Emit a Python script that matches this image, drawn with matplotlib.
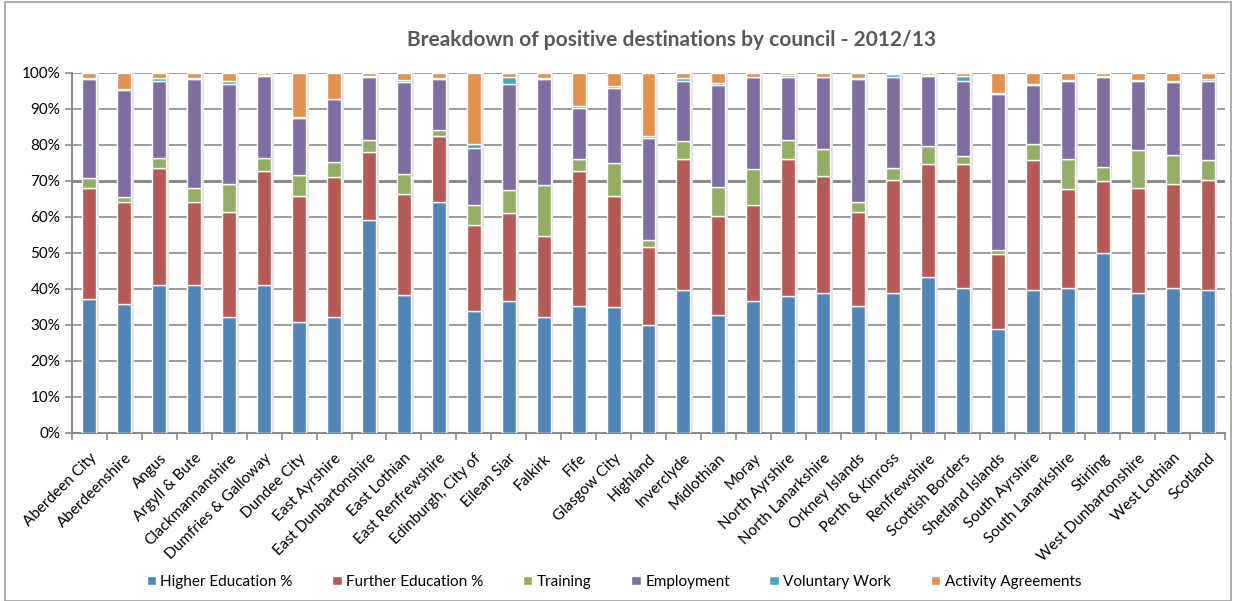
import numpy as np
import matplotlib
matplotlib.use('Agg')
import matplotlib.pyplot as plt
from matplotlib.patches import Rectangle

plt.rcParams['font.family'] = ['Lato', 'DejaVu Sans']

councils = ['Aberdeen City', 'Aberdeenshire', 'Angus', 'Argyll & Bute', 'Clackmannanshire',
            'Dumfries & Galloway', 'Dundee City', 'East Ayrshire', 'East Dunbartonshire',
            'East Lothian', 'East Renfrewshire', 'Edinburgh, City of', 'Eilean Siar', 'Falkirk',
            'Fife', 'Glasgow City', 'Highland', 'Inverclyde', 'Midlothian', 'Moray',
            'North Ayrshire', 'North Lanarkshire', 'Orkney Islands', 'Perth & Kinross',
            'Renfrewshire', 'Scottish Borders', 'Shetland Islands', 'South Ayrshire',
            'South Lanarkshire', 'Stirling', 'West Dunbartonshire', 'West Lothian', 'Scotland']

higher_ed = [37.3, 35.7, 41.0, 41.0, 32.3, 41.0, 30.9, 32.3, 59.1, 38.4, 64.3, 34.0, 36.8,
             32.3, 35.4, 34.9, 30.1, 39.7, 32.8, 36.8, 38.0, 38.9, 35.4, 38.9, 43.2, 40.2,
             28.9, 39.7, 40.2, 50.1, 38.9, 40.2, 39.7]
further_ed = [30.8, 28.4, 32.5, 23.1, 29.2, 31.7, 34.8, 38.7, 18.9, 27.9, 18.3, 23.9, 24.2,
              22.3, 37.3, 30.8, 21.7, 36.5, 27.5, 26.4, 38.2, 32.5, 26.1, 31.3, 31.6, 34.6,
              20.8, 36.0, 27.7, 20.0, 29.1, 29.1, 30.5]
training = [2.7, 1.4, 3.0, 3.9, 7.8, 3.6, 6.1, 4.3, 3.3, 5.6, 1.7, 5.3, 6.4, 14.2, 3.5, 9.2,
            1.7, 4.8, 8.1, 10.1, 5.2, 7.5, 2.6, 3.4, 4.9, 2.2, 1.0, 4.7, 8.3, 3.9, 10.5, 7.8,
            5.6]
employment = [27.4, 29.7, 21.3, 30.2, 27.7, 22.9, 15.6, 17.4, 17.5, 25.6, 13.9, 16.0, 29.6,
              29.4, 14.2, 20.9, 28.4, 16.9, 28.3, 25.5, 17.5, 19.9, 34.1, 25.2, 19.5, 20.8,
              43.6, 16.2, 21.6, 24.8, 19.3, 20.4, 22.0]
voluntary = [0.4, 0.3, 0.8, 0.3, 0.9, 0.3, 0.4, 0.2, 0.5, 0.5, 0.5, 1.1, 1.8, 0.3, 0.3, 0.7,
             0.6, 0.6, 0.4, 0.2, 0.6, 0.2, 0.3, 0.8, 0.3, 1.4, 0.2, 0.4, 0.3, 0.4, 0.3, 0.4,
             0.4]
activity = [1.4, 4.5, 1.4, 1.5, 2.1, 0.5, 12.2, 7.1, 0.7, 2.0, 1.3, 19.7, 1.2, 1.5, 9.3, 3.5,
            17.5, 1.5, 2.9, 1.0, 0.5, 1.0, 1.5, 0.4, 0.5, 0.8, 5.5, 3.0, 1.9, 0.8, 1.9, 2.1,
            1.8]

series = [('Higher Education %', higher_ed, '#5185B6'),
          ('Further Education %', further_ed, '#B55A56'),
          ('Training', training, '#93AE64'),
          ('Employment', employment, '#7F6CA1'),
          ('Voluntary Work', voluntary, '#4AA7C0'),
          ('Activity Agreements', activity, '#E1924F')]

fig = plt.figure(figsize=(12.36, 6.01), dpi=100)
ax = fig.add_axes([72 / 1236, 1 - 433 / 601, (1225 - 72) / 1236, (433 - 73) / 601])

x = np.arange(len(councils))
totals = np.sum([np.array(s[1]) for s in series], axis=0)

# soft shadow behind the stacks
ax.bar(x + 0.07, totals, 0.42, color='#e4e4e4', linewidth=0, zorder=2)

bottom = np.zeros(len(councils))
for name, vals, col in series:
    vals = np.array(vals)
    ax.bar(x, vals, 0.4, bottom=bottom, color=col, edgecolor='white', linewidth=1.0,
           label=name, zorder=3)
    bottom += vals

# gridlines
for v in range(10, 101, 10):
    lw = 2.2 if v == 70 else 1.2
    ax.axhline(v, color='#8c8c8c', lw=lw, zorder=1)

ax.set_xlim(-0.5, len(councils) - 0.5)
ax.set_ylim(0, 100)
ax.set_yticks(range(0, 101, 10))
ax.set_yticklabels([f'{v}%' for v in range(0, 101, 10)], fontsize=11)
ax.set_xticks(x)
ax.set_xticklabels(councils, rotation=45, ha='right', rotation_mode='anchor', fontsize=11)
ax.set_xticks(np.arange(-0.5, len(councils)), minor=True)
ax.tick_params(axis='x', which='major', length=0, pad=13)
ax.tick_params(axis='x', which='minor', length=5, color='#8c8c8c', width=1.2)
ax.tick_params(axis='y', length=5, color='#8c8c8c', width=1.2)

for s in ['top', 'right']:
    ax.spines[s].set_visible(False)
for s in ['left', 'bottom']:
    ax.spines[s].set_color('#8c8c8c')
    ax.spines[s].set_linewidth(1.5)

fig.text(0.543, 1 - 40 / 601, 'Breakdown of positive destinations by council - 2012/13',
         ha='center', va='center', fontsize=15, fontweight='bold', color='#595959')

ax.legend(loc='center', bbox_to_anchor=(0.47, 1 - (582 - 73) / 360), ncol=6,
          frameon=False, fontsize=11, handlelength=0.6, handleheight=0.6,
          handletextpad=0.3, columnspacing=2.6)

fig.patches.append(Rectangle((5 / 1236, 0), 1 - 10 / 1236, 1 - 2 / 601, transform=fig.transFigure,
                             fill=False, edgecolor='#a0a0a0', lw=1.2))

fig.savefig('out.png', dpi=100)
